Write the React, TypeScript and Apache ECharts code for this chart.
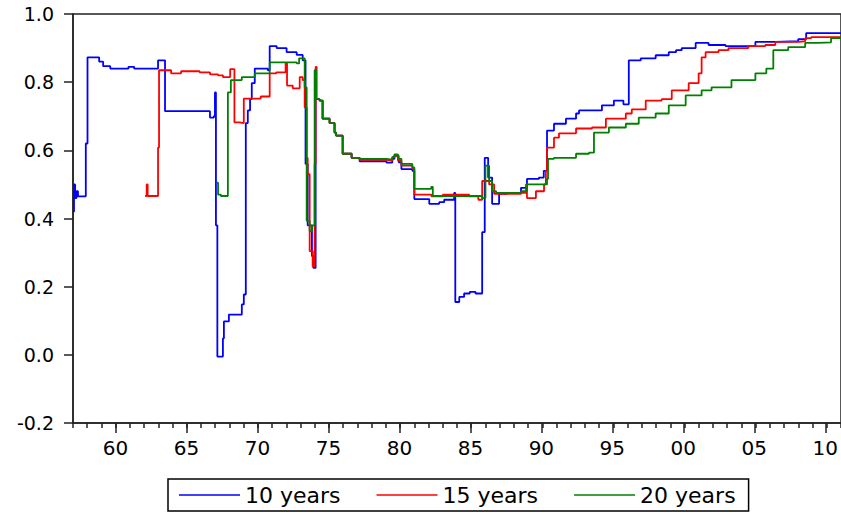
import React, { useEffect, useRef } from "react";
import * as echarts from "echarts";

const seriesNames = ["10 years", "15 years", "20 years"];
const seriesColors = ["#0000ff", "#ff0000", "#008000"];

// 10 years (step points: year where the value changes, new value)
const years10 = [
  1957.0, 1957.07, 1957.15, 1957.25, 1957.35, 1957.9, 1958.02, 1958.84, 1959.12, 1959.62,
  1960.9, 1961.3, 1962.98, 1963.47, 1966.63, 1966.9, 1966.98, 1967.05, 1967.15, 1967.54,
  1967.61, 1967.96, 1968.87, 1969.01, 1969.15, 1969.29, 1969.45, 1969.57, 1969.78, 1970.7,
  1970.83, 1971.32, 1972.02, 1972.73, 1973.15, 1973.35, 1973.5, 1973.8, 1973.9, 1974.06,
  1974.34, 1974.55, 1975.04, 1975.39, 1975.5, 1975.96, 1976.59, 1977.15, 1979.04, 1979.45,
  1979.6, 1979.9, 1980.09, 1980.86, 1981.0, 1982.05, 1982.75, 1983.1, 1983.8, 1983.88,
  1984.16, 1984.5, 1984.9, 1985.3, 1985.77, 1985.95, 1986.19, 1986.47, 1986.96, 1987.5,
  1988.5, 1988.92, 1989.76, 1990.1, 1990.33, 1990.82, 1991.66, 1992.37, 1992.58, 1994.19,
  1995.03, 1995.7, 1996.08, 1996.92, 1997.97, 1998.89, 1999.4, 1999.8, 2000.78, 2001.69,
  2002.88, 2004.98, 2006.38, 2007.99, 2008.55, 2011.0,
];
const values10 = [
  0.42, 0.5, 0.46, 0.48, 0.465, 0.62, 0.873, 0.86, 0.847, 0.84,
  0.845, 0.84, 0.864, 0.715, 0.696, 0.7, 0.77, 0.38, -0.005, 0.048,
  0.098, 0.118, 0.148, 0.177, 0.68, 0.717, 0.75, 0.797, 0.84, 0.835,
  0.906, 0.9, 0.888, 0.88, 0.864, 0.56, 0.38, 0.29, 0.255, 0.75,
  0.746, 0.693, 0.68, 0.652, 0.643, 0.59, 0.578, 0.568, 0.564, 0.575,
  0.584, 0.565, 0.545, 0.54, 0.457, 0.443, 0.448, 0.455, 0.475, 0.155,
  0.17, 0.18, 0.185, 0.18, 0.36, 0.578, 0.52, 0.443, 0.472, 0.475,
  0.49, 0.516, 0.52, 0.54, 0.658, 0.678, 0.693, 0.708, 0.717, 0.732,
  0.746, 0.735, 0.864, 0.87, 0.879, 0.888, 0.894, 0.9, 0.915, 0.909,
  0.906, 0.918, 0.92, 0.926, 0.944, 0.944,
];

// 15 years
const years15 = [
  1962.07, 1962.18, 1962.25, 1962.98, 1963.05, 1963.9, 1964.6, 1965.9, 1966.63, 1967.2,
  1967.54, 1968.05, 1968.35, 1968.7, 1969.01, 1970.2, 1970.83, 1971.3, 1971.95, 1972.05,
  1972.45, 1972.94, 1973.15, 1973.29, 1973.43, 1973.5, 1973.64, 1973.85, 1973.99, 1974.06,
  1974.13, 1974.34, 1974.55, 1975.04, 1975.39, 1975.5, 1975.96, 1976.59, 1977.15, 1979.04,
  1979.45, 1979.6, 1979.85, 1980.09, 1980.86, 1981.0, 1982.2, 1983.0, 1984.86, 1985.5,
  1985.77, 1986.26, 1986.61, 1988.5, 1988.85, 1988.92, 1989.55, 1990.12, 1990.25, 1990.33,
  1990.82, 1991.17, 1992.37, 1993.49, 1994.47, 1995.87, 1996.29, 1997.27, 1998.39, 1999.1,
  2000.29, 2000.99, 2001.2, 2001.48, 2002.39, 2003.09, 2004.49, 2005.68, 2006.38, 2007.99,
  2008.48, 2008.9, 2011.0,
];
const values15 = [
  0.466, 0.5, 0.466, 0.608, 0.835, 0.826, 0.832, 0.829, 0.823, 0.82,
  0.815, 0.838, 0.682, 0.68, 0.752, 0.758, 0.826, 0.829, 0.855, 0.79,
  0.782, 0.815, 0.806, 0.726, 0.578, 0.53, 0.304, 0.26, 0.56, 0.845,
  0.75, 0.746, 0.693, 0.68, 0.652, 0.643, 0.59, 0.578, 0.572, 0.57,
  0.58, 0.584, 0.57, 0.555, 0.546, 0.47, 0.465, 0.47, 0.465, 0.455,
  0.51, 0.5, 0.472, 0.475, 0.5, 0.46, 0.48, 0.5, 0.54, 0.608,
  0.637, 0.65, 0.664, 0.667, 0.693, 0.708, 0.72, 0.746, 0.75, 0.776,
  0.797, 0.826, 0.873, 0.888, 0.894, 0.9, 0.906, 0.909, 0.918, 0.92,
  0.929, 0.932, 0.932,
];

// 20 years
const years20 = [
  1967.12, 1967.2, 1967.4, 1967.89, 1968.1, 1968.87, 1969.78, 1970.83, 1972.73, 1972.9,
  1973.29, 1973.43, 1973.64, 1973.8, 1973.99, 1974.1, 1974.34, 1974.55, 1975.04, 1975.39,
  1975.5, 1975.96, 1976.59, 1977.15, 1979.04, 1979.45, 1979.6, 1979.85, 1980.09, 1980.86,
  1981.0, 1982.19, 1982.3, 1985.77, 1986.0, 1986.26, 1986.47, 1986.75, 1988.5, 1988.92,
  1990.33, 1990.4, 1990.82, 1992.37, 1993.28, 1993.63, 1994.68, 1995.87, 1996.78, 1997.97,
  1998.89, 2000.08, 2001.2, 2001.9, 2003.3, 2004.98, 2005.75, 2006.24, 2007.29, 2008.48,
  2009.39, 2010.3, 2011.0,
];
const values20 = [
  0.505, 0.47, 0.466, 0.77, 0.806, 0.815, 0.826, 0.858, 0.855, 0.87,
  0.785, 0.393, 0.363, 0.38, 0.835, 0.75, 0.746, 0.693, 0.68, 0.652,
  0.643, 0.59, 0.578, 0.575, 0.573, 0.58, 0.588, 0.575, 0.56, 0.55,
  0.487, 0.493, 0.466, 0.46, 0.555, 0.51, 0.48, 0.475, 0.48, 0.5,
  0.516, 0.575, 0.578, 0.59, 0.593, 0.652, 0.667, 0.678, 0.696, 0.708,
  0.732, 0.761, 0.776, 0.785, 0.806, 0.826, 0.84, 0.894, 0.903, 0.915,
  0.917, 0.929, 0.935,
];

const allYears = [years10, years15, years20];
const allValues = [values10, values15, values20];

const FONT = "DejaVu Sans";

export default function App() {
  const ref = useRef<HTMLDivElement>(null);
  useEffect(() => {
    if (!ref.current) return;
    const chart = echarts.init(ref.current, undefined, { renderer: "svg" });
    const series = seriesNames.map((name, i) => ({
      name,
      type: "line",
      xAxisIndex: 0,
      yAxisIndex: 0,
      step: "end",
      symbol: "none",
      showSymbol: false,
      data: allYears[i].map((x, k) => [x, allValues[i][k]]),
      lineStyle: { color: seriesColors[i], width: 1.8 },
      itemStyle: { color: seriesColors[i] },
      z: 2 + i,
    }));
    chart.setOption({
      animation: false,
      backgroundColor: "#ffffff",
      grid: [
        {
          left: 73,
          top: 14,
          width: 770,
          bottom: 90,
          show: true,
          borderColor: "#222",
          borderWidth: 1.5,
          backgroundColor: "transparent",
        },
        { left: 115.5, top: 14, width: 713.1, bottom: 90 },
      ],
      xAxis: [
        {
          type: "value",
          gridIndex: 0,
          min: 1957,
          max: 2011,
          interval: 1,
          axisLine: { show: true, onZero: false, lineStyle: { color: "#222", width: 1.5 } },
          axisTick: { show: true, length: 5, inside: false, lineStyle: { color: "#222", width: 1.5 } },
          axisLabel: { show: false },
          splitLine: { show: false },
        },
        {
          type: "value",
          gridIndex: 1,
          min: 1960,
          max: 2010,
          interval: 5,
          axisLine: { show: false, onZero: false },
          axisTick: { show: true, length: 10, inside: false, lineStyle: { color: "#222", width: 1.5 } },
          axisLabel: {
            show: true,
            margin: 15,
            color: "#000",
            fontFamily: FONT,
            fontSize: 20,
            formatter: (v: number) => String(Math.round(v) % 100).padStart(2, "0"),
          },
          splitLine: { show: false },
        },
      ],
      yAxis: [
        {
          type: "value",
          gridIndex: 0,
          min: -0.2,
          max: 1.0,
          interval: 0.2,
          axisLine: { show: true, onZero: false, lineStyle: { color: "#222", width: 1.5 } },
          axisTick: { show: true, length: 9, inside: false, lineStyle: { color: "#222", width: 1.5 } },
          axisLabel: {
            show: true,
            margin: 19,
            color: "#000",
            fontFamily: FONT,
            fontSize: 19,
            formatter: (v: number) => v.toFixed(1),
          },
          splitLine: { show: false },
        },
        { type: "value", gridIndex: 1, show: false, min: 0, max: 1 },
      ],
      legend: {
        show: true,
        left: 168,
        top: 479,
        orient: "horizontal",
        data: seriesNames,
        icon: "rect",
        itemWidth: 61,
        itemHeight: 1.5,
        itemGap: 36,
        padding: [5, 13, 5, 11],
        borderColor: "#000",
        borderWidth: 1.5,
        textStyle: { color: "#000", fontFamily: FONT, fontSize: 22, lineHeight: 20 },
      },
      series,
    });
    return () => chart.dispose();
  }, []);
  return (
    <div
      ref={ref}
      style={{ position: "fixed", left: 0, top: 0, width: 841, height: 513 }}
    />
  );
}
